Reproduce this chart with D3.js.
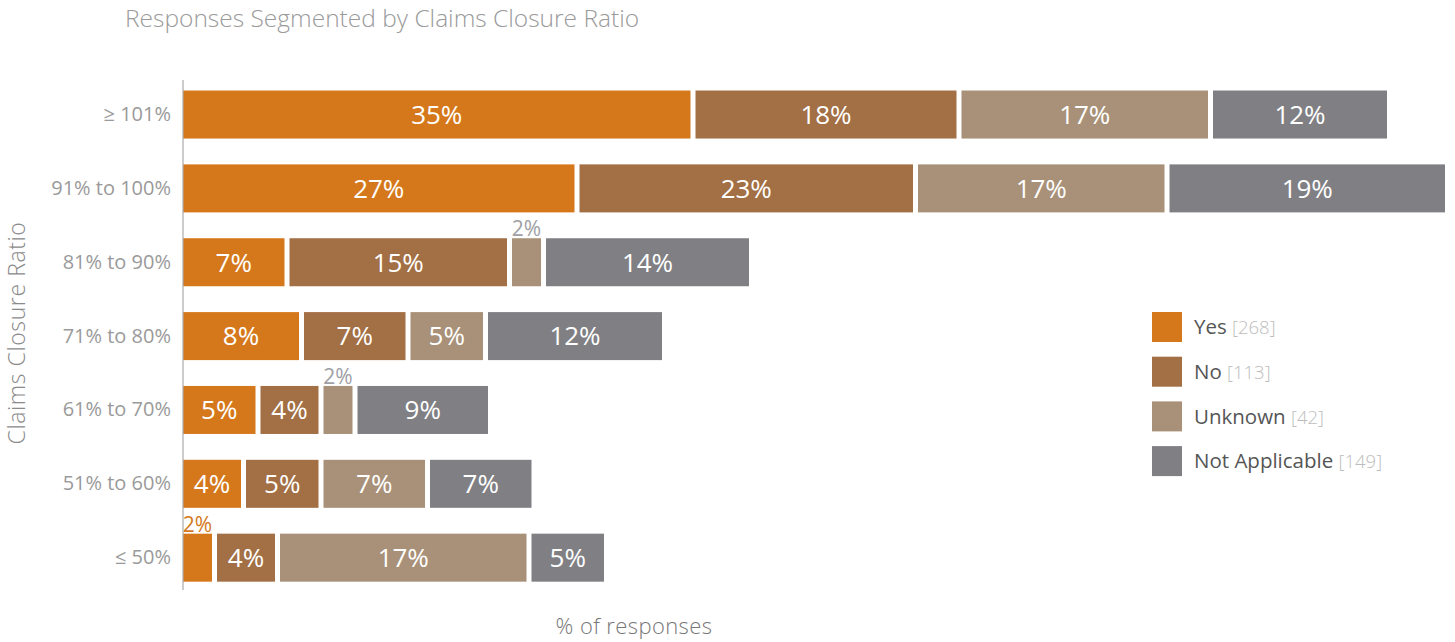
<!DOCTYPE html>
<html>
<head>
<meta charset="utf-8">
<script src="https://cdn.jsdelivr.net/npm/d3@7"></script>
<style>
  html, body { margin: 0; padding: 0; background: #fff; }
  svg { display: block; font-family: "Open Sans", Lato, sans-serif; }
</style>
</head>
<body>
<svg id="chart" width="1455" height="642"></svg>
<script>
// Claims closure ratio bands, top to bottom
const categories = ["≥ 101%", "91% to 100%", "81% to 90%", "71% to 80%", "61% to 70%", "51% to 60%", "≤ 50%"];

// Response series with their counts
const seriesNames = ["Yes", "No", "Unknown", "Not Applicable"];
const seriesCounts = [268, 113, 42, 149];

// Percent of responses per band, one array per series (same order as categories)
const yesValues     = [35, 27, 7, 8, 5, 4, 2];
const noValues      = [18, 23, 15, 7, 4, 5, 4];
const unknownValues = [17, 17, 2, 5, 2, 7, 17];
const naValues      = [12, 19, 14, 12, 9, 7, 5];

const seriesValues = [yesValues, noValues, unknownValues, naValues];
const colors = ["#d5781b", "#a36f44", "#a89178", "#808084"];
const outsideLabelColors = ["#d5781b", "#a36f44", "#a0a0a4", "#808084"];

const svg = d3.select("#chart");
const gap = 5;
const left = 183;
const right = 1445;

const totals = categories.map((c, i) => d3.sum(seriesValues, s => s[i]));
const maxTotal = d3.max(totals);

const x = d3.scaleLinear()
  .domain([0, maxTotal])
  .range([left, right - gap * (seriesNames.length - 1)]);

const y = d3.scaleBand()
  .domain(categories)
  .range([77.6, 594.6])
  .paddingInner(0.35)
  .paddingOuter(0.175);

// Stack layout
const table = categories.map((c, i) => {
  const row = { category: c };
  seriesNames.forEach((s, k) => { row[s] = seriesValues[k][i]; });
  return row;
});
const stacked = d3.stack().keys(seriesNames)(table);

// Title
svg.append("text")
  .attr("x", 125).attr("y", 27)
  .attr("fill", "#9a9a9a")
  .attr("font-size", 24.5)
  .attr("font-weight", 300)
  .text("Responses Segmented by Claims Closure Ratio");

// Bars
stacked.forEach((layer, k) => {
  const g = svg.append("g");
  layer.forEach((d, i) => {
    const x0 = x(d[0]) + k * gap;
    const w = x(d[1]) - x(d[0]);
    const yy = y(categories[i]);
    g.append("rect")
      .attr("x", x0).attr("y", yy)
      .attr("width", w).attr("height", y.bandwidth())
      .attr("fill", colors[k]);
    const v = d[1] - d[0];
    const inside = v >= 3;
    g.append("text")
      .attr("x", x0 + w / 2)
      .attr("y", inside ? yy + y.bandwidth() / 2 : yy - 2)
      .attr("dy", inside ? "0.36em" : 0)
      .attr("text-anchor", "middle")
      .attr("font-size", inside ? 26 : 21)
      .attr("fill", inside ? "#fff" : outsideLabelColors[k])
      .text(v + "%");
  });
});

// Y axis
const yAxis = d3.axisLeft(y).tickSize(0).tickPadding(12);
const ya = svg.append("g")
  .attr("transform", `translate(${left},0)`)
  .call(yAxis);
ya.select(".domain").attr("stroke", "#aaa").attr("stroke-width", 1.2)
  .attr("d", "M0,80V590");
ya.selectAll("text")
  .attr("font-size", 20)
  .attr("fill", "#9a9a9a")
  .attr("font-family", "'Open Sans', sans-serif");

// Axis titles
svg.append("text")
  .attr("transform", "translate(25,333) rotate(-90)")
  .attr("text-anchor", "middle")
  .attr("font-size", 23)
  .attr("letter-spacing", 0.6)
  .attr("font-weight", 300)
  .attr("fill", "#8a8a8a")
  .text("Claims Closure Ratio");

svg.append("text")
  .attr("x", 634).attr("y", 634)
  .attr("text-anchor", "middle")
  .attr("font-size", 22)
  .attr("letter-spacing", 0.4)
  .attr("font-weight", 300)
  .attr("fill", "#777")
  .text("% of responses");

// Legend
const legend = svg.append("g").attr("transform", "translate(1152,312)");
seriesNames.forEach((s, k) => {
  const g = legend.append("g").attr("transform", `translate(0,${k * 44.7})`);
  g.append("rect").attr("width", 30).attr("height", 30).attr("fill", colors[k]);
  const t = g.append("text")
    .attr("x", 42).attr("y", 15).attr("dy", "0.36em")
    .attr("font-size", 20.5);
  t.append("tspan").attr("fill", "#555").text(s + " ");
  t.append("tspan").attr("fill", "#bdbdbd").attr("font-size", 18.5).attr("font-weight", 300)
    .text("[" + seriesCounts[k] + "]");
});
</script>
</body>
</html>
